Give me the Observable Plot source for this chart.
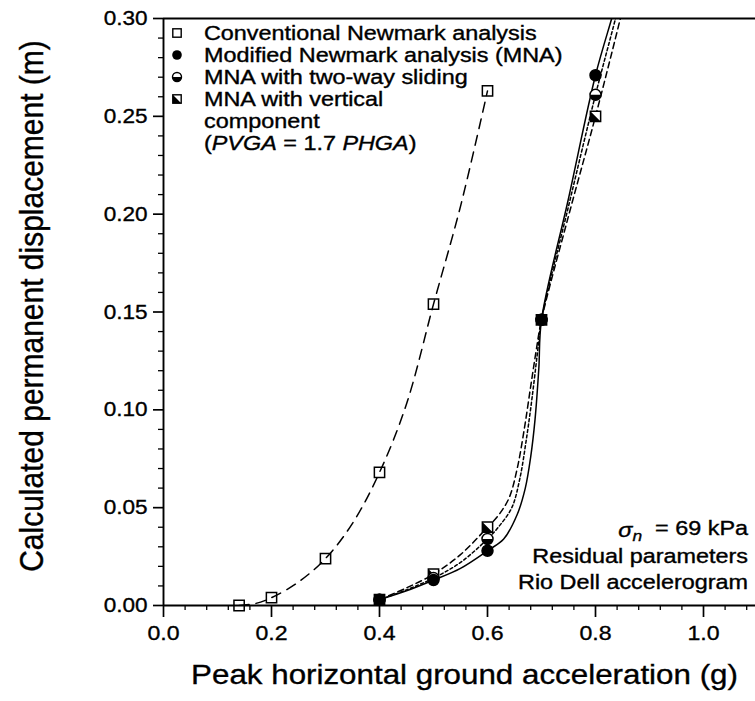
<!DOCTYPE html>
<html>
<head>
<meta charset="utf-8">
<script src="https://cdn.jsdelivr.net/npm/d3@7"></script>
<script src="https://cdn.jsdelivr.net/npm/@observablehq/plot@0.6"></script>
<style>
  html, body { margin: 0; padding: 0; background: #fff; }
  #chart { width: 755px; height: 701px; }
</style>
</head>
<body>
<div id="chart"></div>
<script>
// ---- data ----
const xTickValues = [0.0, 0.2, 0.4, 0.6, 0.8, 1.0];
const yTickValues = [0.00, 0.05, 0.10, 0.15, 0.20, 0.25, 0.30];
const xMinorTicks = [0.04,0.08,0.12,0.16,0.24,0.28,0.32,0.36,0.44,0.48,0.52,0.56,0.64,0.68,0.72,0.76,0.84,0.88,0.92,0.96,1.04,1.08];
const yMinorTicks = [0.01,0.02,0.03,0.04,0.06,0.07,0.08,0.09,0.11,0.12,0.13,0.14,0.16,0.17,0.18,0.19,0.21,0.22,0.23,0.24,0.26,0.27,0.28,0.29];

// Markers
const conventionalPGA  = [0.14, 0.20, 0.30, 0.40, 0.50, 0.60];
const conventionalDisp = [0.000, 0.004, 0.024, 0.068, 0.154, 0.263];
const mnaPGA      = [0.40, 0.50, 0.60, 0.70, 0.80];
const mnaDisp     = [0.003, 0.013, 0.028, 0.146, 0.271];
const twoWayDisp  = [0.003, 0.014, 0.034, 0.146, 0.261];
const verticalDisp= [0.003, 0.016, 0.040, 0.146, 0.250];

// Fitted curves
const convCurveX = [0.14, 0.17, 0.20, 0.25, 0.30, 0.35, 0.40, 0.45, 0.50, 0.55, 0.60];
const convCurveY = [0.000, 0.001, 0.004, 0.012, 0.024, 0.042, 0.068, 0.103, 0.154, 0.204, 0.263];
const mnaCurveX  = [0.40, 0.45, 0.50, 0.55, 0.60, 0.63, 0.655, 0.670, 0.680, 0.688, 0.695, 0.700, 0.750, 0.800, 0.830, 0.836];
const mnaCurveY  = [0.003, 0.0075, 0.013, 0.019, 0.028, 0.034, 0.0465, 0.060, 0.076, 0.095, 0.121, 0.146, 0.208, 0.271, 0.300, 0.306];
const twoCurveX  = [0.40, 0.45, 0.50, 0.55, 0.60, 0.62, 0.645, 0.660, 0.672, 0.682, 0.692, 0.700, 0.750, 0.800, 0.837, 0.842];
const twoCurveY  = [0.003, 0.008, 0.014, 0.022, 0.034, 0.040, 0.050, 0.065, 0.085, 0.105, 0.128, 0.146, 0.204, 0.261, 0.300, 0.306];
const vertCurveX = [0.40, 0.45, 0.50, 0.55, 0.60, 0.62, 0.640, 0.655, 0.668, 0.680, 0.690, 0.700, 0.750, 0.800, 0.846, 0.851];
const vertCurveY = [0.003, 0.009, 0.016, 0.026, 0.040, 0.046, 0.055, 0.070, 0.090, 0.112, 0.130, 0.146, 0.199, 0.250, 0.300, 0.306];

const legendLabels = [
  "Conventional Newmark analysis",
  "Modified Newmark analysis (MNA)",
  "MNA with two-way sliding",
  "MNA with vertical"
];
const xTitle = "Peak horizontal ground acceleration (g)";
const yTitle = "Calculated permanent displacement (m)";

// ---- build tables ----
const zip = (xs, ys) => xs.map((x, i) => ({x, y: ys[i]}));
const conv = zip(conventionalPGA, conventionalDisp);
const mna = zip(mnaPGA, mnaDisp);
const two = zip(mnaPGA, twoWayDisp);
const vert = zip(mnaPGA, verticalDisp);

// custom half symbols
const halfDisk = { draw(ctx, size) { const r = Math.sqrt(size / Math.PI); ctx.moveTo(r, 0); ctx.arc(0, 0, r, 0, Math.PI); ctx.closePath(); } };
const halfSquare = { draw(ctx, size) { const s = Math.sqrt(size) / 2; ctx.moveTo(-s, -s); ctx.lineTo(-s, s); ctx.lineTo(s, s); ctx.closePath(); } };

const FONT = "'Liberation Sans', Arial, Helvetica, sans-serif";
const K_AXIS = 1.1;   // horizontal stretch of axis lettering in the reference
const K_BOX = 1.2;    // stretch for legend / annotation lettering
const curveOpts = { x: "x", y: "y", curve: "catmull-rom", stroke: "black", strokeWidth: 1.5, clip: true };

const chart = Plot.plot({
  width: 755, height: 701,
  marginLeft: 163, marginRight: 0, marginTop: 18, marginBottom: 96,
  style: { fontFamily: FONT, fontSize: "20.5px", color: "black", background: "white", overflow: "visible" },
  x: { domain: [0, 1.1], range: [163, 757] },
  y: { domain: [0, 0.30], range: [605, 18] },
  marks: [
    // axes
    Plot.axisY({ ticks: yMinorTicks, tickSize: 5, text: null, label: null, stroke: "black", strokeWidth: 1.3 }),
    Plot.axisY({ ticks: yTickValues, tickSize: 10, tickPadding: 6, tickFormat: d => d.toFixed(2), label: null, stroke: "black", strokeWidth: 1.7, fontSize: 20.5 }),
    Plot.axisX({ ticks: xMinorTicks, tickSize: 5, text: null, label: null, stroke: "black", strokeWidth: 1.3 }),
    Plot.axisX({ ticks: xTickValues, tickSize: 12, tickPadding: 8, tickFormat: d => d.toFixed(1), label: null, stroke: "black", strokeWidth: 1.7, fontSize: 21 }),
    Plot.ruleX([0], { y1: 0, y2: 0.30, strokeWidth: 1.9 }),
    Plot.ruleY([0], { strokeWidth: 1.9 }),
    Plot.ruleY([0.30], { strokeWidth: 1.9 }),
    // curves
    Plot.line(zip(convCurveX, convCurveY), { ...curveOpts, strokeDasharray: "10,7" }),
    Plot.line(zip(vertCurveX, vertCurveY), { ...curveOpts, strokeDasharray: "6,4" }),
    Plot.line(zip(twoCurveX, twoCurveY), { ...curveOpts, strokeDasharray: "3,2.5" }),
    Plot.line(zip(mnaCurveX, mnaCurveY), { ...curveOpts }),
    // markers
    Plot.dot(conv, { x: "x", y: "y", symbol: "square", r: 5.8, fill: "none", stroke: "black", strokeWidth: 1.5 }),
    Plot.dot(vert, { x: "x", y: "y", symbol: "square", r: 5.8, fill: "white", stroke: "black", strokeWidth: 1.5 }),
    Plot.dot(vert, { x: "x", y: "y", symbol: halfSquare, r: 5.8, fill: "black", stroke: "none" }),
    Plot.dot(two, { x: "x", y: "y", symbol: "circle", r: 5.5, fill: "white", stroke: "black", strokeWidth: 1.5 }),
    Plot.dot(two, { x: "x", y: "y", symbol: halfDisk, r: 5.5, fill: "black", stroke: "none" }),
    Plot.dot(mna, { x: "x", y: "y", symbol: "circle", r: 5.5, fill: "black", stroke: "black" }),
    // axis titles
    Plot.text([xTitle], { frameAnchor: "bottom", textAnchor: "middle", dx: 5, dy: 78, fontSize: 28.5, text: d => d }),
    Plot.text([yTitle], { frameAnchor: "left", textAnchor: "middle", dx: -131, dy: -6, rotate: -90, fontSize: 30, text: d => d })
  ]
});
document.getElementById("chart").appendChild(chart);
const svg = d3.select(chart);

// stretch axis lettering about each text's anchor
function widen(sel, k) {
  sel.each(function () {
    const t = d3.select(this);
    const tr = t.attr("transform") || "";
    if (tr.includes("rotate")) {
      t.attr("transform", `${tr} scale(1,${k})`);
    } else {
      const x = parseFloat(t.attr("x")) || 0;
      t.attr("transform", `${tr} translate(${x},0) scale(${k},1) translate(${-x},0)`);
    }
  });
}
widen(svg.selectAll("text"), K_AXIS);

// ---- legend (top-left inside the frame) ----
const lg = svg.append("g").attr("font-family", FONT).attr("font-size", 19.5).attr("fill", "black").attr("text-anchor", "start");
const symX = 177, txtX = 204, row0 = 33, rowH = 22;
legendLabels.forEach((t, i) => {
  lg.append("text").attr("x", txtX).attr("y", row0 + i * rowH).attr("dy", "0.35em").text(t);
});
lg.append("text").attr("x", txtX).attr("y", row0 + 4 * rowH).attr("dy", "0.35em").text("component");
const l6 = lg.append("text").attr("x", txtX).attr("y", row0 + 5 * rowH).attr("dy", "0.35em");
l6.append("tspan").text("(");
l6.append("tspan").attr("font-style", "italic").text("PVGA");
l6.append("tspan").text(" = 1.7 ");
l6.append("tspan").attr("font-style", "italic").text("PHGA");
l6.append("tspan").text(")");
// symbols
const s = 4.2;
lg.append("rect").attr("x", symX - s).attr("y", row0 - s).attr("width", 2 * s).attr("height", 2 * s).attr("fill", "white").attr("stroke", "black").attr("stroke-width", 1.4);
lg.append("circle").attr("cx", symX).attr("cy", row0 + rowH).attr("r", s + 0.6).attr("fill", "black");
lg.append("circle").attr("cx", symX).attr("cy", row0 + 2 * rowH).attr("r", s + 0.3).attr("fill", "white").attr("stroke", "black").attr("stroke-width", 1.4);
lg.append("path").attr("d", d3.arc()({ innerRadius: 0, outerRadius: s + 0.3, startAngle: Math.PI / 2, endAngle: 3 * Math.PI / 2 })).attr("transform", `translate(${symX},${row0 + 2 * rowH})`).attr("fill", "black");
lg.append("rect").attr("x", symX - s).attr("y", row0 + 3 * rowH - s).attr("width", 2 * s).attr("height", 2 * s).attr("fill", "white").attr("stroke", "black").attr("stroke-width", 1.4);
lg.append("path").attr("d", `M${symX - s},${row0 + 3 * rowH - s}L${symX - s},${row0 + 3 * rowH + s}L${symX + s},${row0 + 3 * rowH + s}Z`).attr("fill", "black");

// ---- annotation (bottom-right) ----
const an = svg.append("g").attr("font-family", FONT).attr("font-size", 19.5).attr("fill", "black").attr("text-anchor", "end");
const annX = 748;
const a1 = an.append("text").attr("x", annX).attr("y", 530).attr("dy", "0.35em");
a1.append("tspan").attr("font-style", "italic").text("σ");
a1.append("tspan").attr("font-style", "italic").attr("font-size", 14.5).attr("dy", "0.3em").text("n");
a1.append("tspan").attr("dy", "-0.3em").text("  = 69 kPa");
an.append("text").attr("x", annX).attr("y", 556).attr("dy", "0.35em").text("Residual parameters");
an.append("text").attr("x", annX).attr("y", 582).attr("dy", "0.35em").text("Rio Dell accelerogram");

widen(lg.selectAll("text"), K_BOX);
widen(an.selectAll("text"), K_BOX);

// heavier, scan-like lettering
svg.selectAll("text").attr("stroke", "black").attr("stroke-width", 0.35);
</script>
</body>
</html>
